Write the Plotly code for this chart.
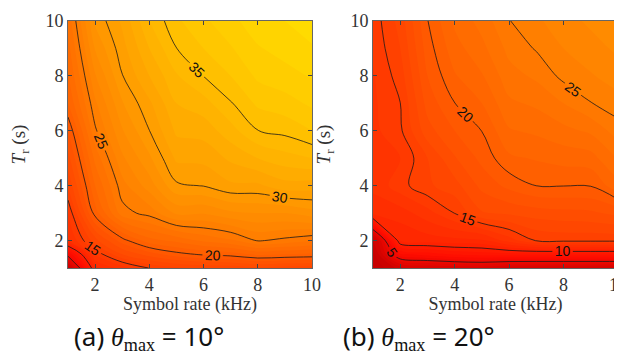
import plotly.graph_objects as go

# ---------------- data ----------------
symbol_rate_khz = [1, 2, 3, 4, 5, 6, 7, 8, 9, 10]
tr_s = [1, 1.5, 2, 3, 4, 5, 6, 7, 8, 9, 10]
x_ticks = [2, 4, 6, 8, 10]
y_ticks = [2, 4, 6, 8, 10]

# panel (a): theta_max = 10 deg, one list per symbol rate (values along T_r)
a_r1 = [0.0, 5.8, 12.8, 14.0, 16.1, 17.6, 19.0, 21.0, 21.9, 22.6, 23.3]
a_r2 = [11.5, 14.2, 16.6, 20.5, 22.0, 23.3, 24.8, 25.8, 26.9, 28.1, 29.2]
a_r3 = [13.5, 17.0, 19.55, 24.56, 25.6, 26.8, 27.9, 28.9, 29.95, 30.6, 31.2]
a_r4 = [15.05, 18.5, 21.6, 25.4, 27.5, 28.8, 29.98, 30.8, 32.0, 33.0, 34.0]
a_r5 = [15.8, 19.6, 22.3, 27.2, 29.8, 31.2, 32.2, 33.0, 33.9, 34.98, 35.8]
a_r6 = [16.2, 20.2, 23.2, 27.1, 30.05, 31.3, 32.4, 33.6, 35.02, 36.0, 36.8]
a_r7 = [16.3, 20.5, 23.8, 27.8, 30.8, 32.2, 33.6, 34.9, 36.0, 36.9, 37.7]
a_r8 = [16.8, 21.2, 25.1, 28.0, 30.8, 33.0, 34.98, 36.2, 37.2, 37.9, 38.6]
a_r9 = [16.5, 21.0, 24.7, 28.0, 31.6, 33.6, 35.3, 36.6, 37.6, 38.4, 39.0]
a_r10 = [16.5, 20.8, 24.2, 28.6, 31.5, 34.0, 36.0, 37.2, 38.1, 38.9, 39.5]

# panel (b): theta_max = 20 deg
b_r1 = [-1.0, -0.5, 0.0, 12.5, 13.2, 13.5, 13.7, 13.8, 13.9, 14.2, 14.4]
b_r2 = [1.5, 6.8, 11.1, 12.5, 14.6, 14.0, 14.8, 14.98, 15.5, 16.0, 16.4]
b_r3 = [2.0, 7.5, 11.5, 13.6, 15.8, 16.0, 17.6, 18.4, 19.0, 19.5, 19.95]
b_r4 = [2.3, 8.2, 11.7, 15.03, 16.6, 17.9, 19.0, 19.98, 20.9, 21.6, 22.2]
b_r5 = [2.5, 8.5, 11.8, 16.9, 18.3, 19.3, 20.02, 21.0, 21.9, 22.7, 23.4]
b_r6 = [1.8, 8.6, 13.5, 17.2, 19.3, 20.8, 21.9, 22.8, 23.6, 24.3, 24.95]
b_r7 = [1.7, 8.6, 15.1, 17.5, 20.01, 21.1, 22.2, 23.2, 24.2, 25.1, 25.8]
b_r8 = [1.7, 8.6, 15.3, 17.7, 20.03, 21.4, 22.7, 24.0, 25.3, 26.0, 26.6]
b_r9 = [1.7, 8.6, 15.3, 17.8, 20.05, 21.6, 23.2, 24.95, 25.9, 26.6, 27.2]
b_r10 = [1.7, 8.6, 15.3, 18.3, 21.7, 23.1, 24.5, 25.6, 26.5, 27.2, 27.8]

a_cols = [a_r1, a_r2, a_r3, a_r4, a_r5, a_r6, a_r7, a_r8, a_r9, a_r10]
b_cols = [b_r1, b_r2, b_r3, b_r4, b_r5, b_r6, b_r7, b_r8, b_r9, b_r10]
z_a = [list(row) for row in zip(*a_cols)]
z_b = [list(row) for row in zip(*b_cols)]

# ---------------- style ----------------
ZMIN, ZMAX = 0, 40
cscale = [
    [0.0, "rgb(200,0,0)"],
    [7 / 40, "rgb(255,12,0)"],
    [28 / 40, "rgb(255,142,0)"],
    [1.0, "rgb(255,222,0)"],
]
SERIF = "Liberation Serif"
SANS = "Liberation Sans"

fig = go.Figure()


def add_panel(z, xa, ya):
    fig.add_trace(go.Contour(
        x=symbol_rate_khz, y=tr_s, z=z, xaxis=xa, yaxis=ya,
        colorscale=cscale, zmin=ZMIN, zmax=ZMAX, zauto=False,
        contours=dict(start=-2, end=41, size=1, coloring="fill", showlines=False),
        line=dict(width=0), showscale=False, hoverinfo="skip",
    ))
    fig.add_trace(go.Contour(
        x=symbol_rate_khz, y=tr_s, z=z, xaxis=xa, yaxis=ya,
        contours=dict(start=5, end=40, size=5, coloring="none", showlabels=True,
                      labelfont=dict(family=SANS, size=14, color="#111")),
        line=dict(color="#1a1a1a", width=0.8), showscale=False, hoverinfo="skip",
    ))


add_panel(z_a, "x", "y")
add_panel(z_b, "x2", "y2")

axis_common = dict(
    range=[1, 10], tickvals=x_ticks, ticks="inside", ticklen=4,
    tickcolor="#444", showline=True, linecolor="#666", linewidth=0.8,
    mirror="ticks", showgrid=False, zeroline=False,
    tickfont=dict(family=SERIF, size=18, color="#333"),
)
xtitle = dict(text="Symbol rate (kHz)", font=dict(family=SERIF, size=18, color="#333"), standoff=2)
ytitle = dict(text="<i>T</i><sub>r</sub> (s)", font=dict(family=SERIF, size=19, color="#333"), standoff=14)

L0, L1 = 0.0, 248 / 559
R0, R1 = 310 / 559, 1.0

fig.update_layout(
    width=622, height=357,
    margin=dict(l=60, r=3, t=13, b=97),
    paper_bgcolor="white", plot_bgcolor="white",
    showlegend=False,
    xaxis=dict(domain=[L0, L1], anchor="y", title=xtitle, **axis_common),
    yaxis=dict(domain=[0, 1], anchor="x", title=ytitle, **axis_common),
    xaxis2=dict(domain=[R0, R1], anchor="y2", title=xtitle, **axis_common),
    yaxis2=dict(domain=[0, 1], anchor="x2", title=ytitle, **axis_common),
)

cap_a = ('(a) <span style="font-family:Liberation Serif"><i>θ</i>'
         '<sub>max</sub></span> = 10°')
cap_b = ('(b) <span style="font-family:Liberation Serif"><i>θ</i>'
         '<sub>max</sub></span> = 20°')
for txt, xp in [(cap_a, (142 - 60) / 559), (cap_b, (417 - 60) / 559)]:
    fig.add_annotation(text=txt, xref="paper", yref="paper", x=xp, y=(260 - 328) / 247,
                       xanchor="center", yanchor="middle", showarrow=False,
                       font=dict(family="Noto Sans", size=26, color="#111"))

fig.write_html("out.html")
